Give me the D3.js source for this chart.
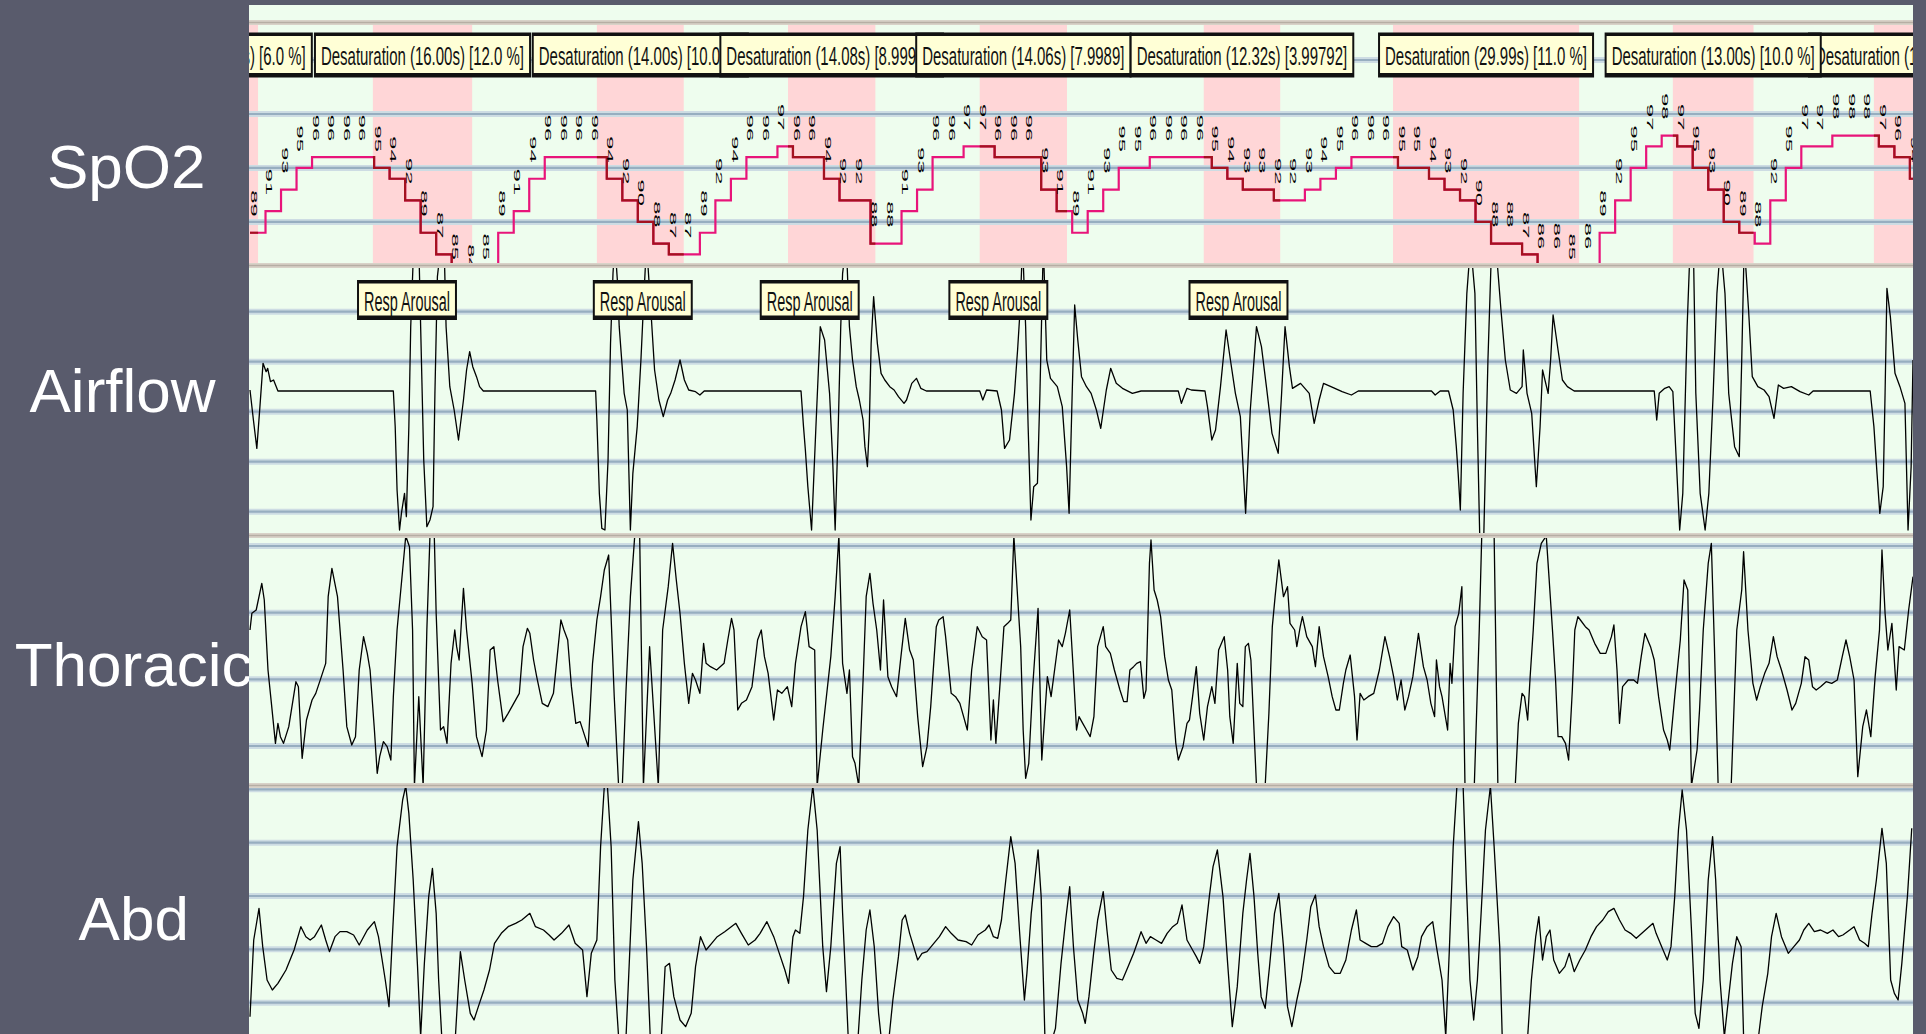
<!DOCTYPE html>
<html>
<head>
<meta charset="utf-8">
<script src="https://cdn.jsdelivr.net/npm/d3@7"></script>
<style>
  body { margin: 0; background: #595b6c; overflow: hidden; }
  svg { display: block; }
</style>
</head>
<body>
<svg id="graf"></svg>
<script>
// ---- data ----------------------------------------------------------
const channels = ["SpO2", "Airflow", "Thoracic", "Abd"]
const windowSec = 268          // seconds shown in the page

// SpO2 (%), one value every 2.5 s
const spo2Step = 2.5
const spo2Values = [89,91,93,95,96,96,96,96,95,94, 92,89,87,85,84,85,89,91,94,96,
  96,96,96,94,92,90,88,87,87,89, 92,94,96,96,97,96,96,94,92,92,
  88,88,91,93,96,96,97,97,96,96, 96,93,91,89,91,93,95,95,96,96,
  96,96,95,94,93,93,92,92,93,94, 95,96,96,96,95,95,94,93,92,90,
  88,88,87,86,86,85,86,89,92,95, 97,98,97,95,93,90,89,88,92,95,
  97,97,98,98,98,97,96,94]
const spo2Grid = [90, 95, 100, 105]

// desaturation events (start s, duration s, drop text)
const desatStart = [-14.7, 19.8, 55.9, 86.7, 117.6, 153.7, 184.2, 229.3, 261.7]
const desatDur   = [16.0, 16.0, 14.0, 14.08, 14.06, 12.32, 29.99, 13.0, 12.4]
const desatDrop  = ["6.0 %", "12.0 %", "10.0 %", "8.99913", "7.9989", "3.99792", "11.0 %", "10.0 %", "9.0 %"]

// respiratory arousals (centre, s)
const arousalMid = [25.3, 63.3, 90.2, 120.6, 159.3]

// Airflow [t s, amplitude]
const airGrid = [-300, -150, 0, 150, 300]
const airflow = [
[0,65],[0.55,-25],[1.1,-110],[1.6,15],[2.1,145],[2.6,120],[2.85,130],[3.3,90],[3.8,95],[4.5,62],
[23.1,62],[23.4,-45],[23.7,-235],[24.1,-355],[24.4,-305],[24.9,-245],[25.2,-315],[25.6,-45],[25.9,255],[26.4,505],[27.2,505],[27.5,255],[28.0,-145],[28.5,-345],[29.0,-325],[29.5,-285],[29.8,55],[30.2,405],[30.8,505],[31.3,485],[31.6,255],[32.2,75],[32.9,5],[33.6,-85],[34.4,35],[34.9,125],[35.4,180],[35.9,135],[36.5,105],[37.0,75],[37.6,62],
[55.7,62],[55.9,-25],[56.3,-245],[56.7,-350],[57.2,-355],[57.7,-145],[58.1,205],[58.5,415],[58.8,505],[59.2,395],[59.5,255],[60.3,55],[60.8,5],[61.3,-355],[61.7,-185],[62.1,-105],[62.4,-45],[63.0,155],[63.5,355],[63.9,505],[64.6,305],[65.2,125],[65.9,35],[66.6,-15],[67.3,35],[67.8,55],[68.5,95],[69.3,155],[70.0,95],[70.7,65],[71.8,60],[72.5,50],[73.2,62],
[88.8,62],[89.2,-45],[89.5,-115],[89.9,-225],[90.5,-355],[91.2,-45],[91.9,255],[92.6,215],[93.4,55],[93.9,-145],[94.3,-355],[94.8,-45],[95.2,255],[95.5,415],[96.1,505],[96.6,255],[97.1,155],[97.7,75],[98.2,35],[98.8,-25],[99.1,-105],[99.5,-165],[99.8,-45],[100.1,205],[100.5,345],[101.1,205],[101.7,115],[102.3,95],[103.1,75],[103.8,65],[104.5,45],[105.4,25],[105.8,35],[106.65,85],[107.4,100],[108.1,70],[109.0,62],
[117.6,62],[118.1,35],[118.7,65],[120.4,62],[121.1,5],[121.6,-110],[122.4,-85],[123.2,55],[123.7,185],[124.1,305],[124.5,505],[125.0,255],[125.4,-45],[125.85,-325],[126.3,-225],[126.9,-215],[127.3,55],[127.85,505],[128.4,155],[129.0,100],[130.1,75],[130.9,15],[131.6,-165],[132.0,-305],[132.5,55],[132.9,320],[133.4,215],[134.0,105],[134.8,75],[135.55,55],[136.4,5],[137.1,-50],[138.0,65],[138.7,130],[139.6,85],[140.6,70],[142.2,55],[143.6,62],
[149.6,62],[150.1,25],[151.0,70],[151.7,65],[153.9,62],[154.3,15],[155.0,-85],[155.6,-55],[156.4,75],[157.3,245],[158.0,155],[158.8,55],[159.6,-15],[160.45,-305],[161.2,5],[162.2,255],[163.0,195],[163.8,75],[164.7,-65],[165.7,-125],[166.25,55],[166.8,255],[167.5,135],[168.0,70],[169.3,85],[170.7,55],[171.5,-35],[172.3,35],[173.0,85],[174.2,75],[176.0,60],[177.5,50],[178.6,62],
[190.4,62],[191.0,50],[191.8,62],[193.15,62],[193.9,5],[194.4,-105],[194.7,-185],[195.05,-295],[195.5,55],[196.1,355],[196.7,505],[197.4,355],[197.8,-45],[198.2,-395],[198.8,-395],[199.5,155],[200.1,505],[200.75,505],[201.6,305],[202.3,155],[203.1,65],[204.1,55],[205.0,75],[205.2,185],[205.8,55],[206.55,-5],[207.3,-225],[207.9,-45],[208.3,125],[209.2,55],[209.6,155],[210.0,290],[210.8,185],[211.5,95],[212.3,75],[213.4,62],
[226.3,62],[226.7,-25],[227.1,55],[228.0,70],[228.7,75],[229.3,60],[229.85,-145],[230.4,-355],[230.9,-245],[231.6,255],[232.1,505],[232.6,505],[233.0,55],[233.7,-245],[234.5,-355],[235.1,-245],[235.8,55],[236.4,355],[237.0,505],[237.7,355],[238.3,55],[239.25,-105],[240.0,-135],[240.4,155],[240.8,505],[241.5,305],[242.1,105],[243.0,75],[244.0,65],[244.8,45],[245.6,-20],[246.3,80],[247.15,70],[248.4,75],[249.8,60],[251.2,50],[251.9,62],
[261.1,62],[261.7,-45],[262.2,-185],[262.65,-305],[263.2,-225],[263.5,55],[263.8,370],[264.35,285],[265.1,115],[265.9,75],[266.7,25],[267.2,-355],[267.7,-165],[268.0,155]
]

// Thoracic effort [t s, amplitude]
const thoGrid = [-300, -100, 100, 300]
const thoracic = [
[0.0,48],[0.3,98],[1.0,108],[1.9,188],[2.3,138],[2.9,-72],[3.45,-172],[4.1,-292],[4.5,-232],[4.9,-272],[5.4,-292],[6.25,-242],[7.4,-107],[7.8,-122],[8.4,-337],[9.1,-222],[10.0,-162],[10.6,-142],[11.5,-92],[12.2,-52],[12.6,148],[13.2,233],[14.1,148],[15.0,-72],[15.6,-242],[16.4,-297],[17.0,-272],[17.6,-72],[18.3,28],[18.9,-22],[19.35,-72],[20.05,-252],[20.5,-382],[20.9,-332],[21.5,-287],[22.1,-302],[22.7,-342],[23.1,-152],[23.7,48],[24.6,228],[25.1,330],[25.7,298],[26.2,48],[26.5,-420],[27.2,-152],[27.9,-420],[28.5,48],[29.0,330],[29.7,330],[30.0,98],[30.7,-252],[31.2,-242],[31.75,-292],[32.4,-52],[33.0,48],[33.3,-2],[33.7,-42],[34.4,173],[34.9,48],[35.8,-112],[36.5,-272],[37.4,-332],[38.1,-252],[38.7,-12],[39.3,-2],[39.9,-102],[40.8,-227],[41.6,-202],[42.5,-172],[43.4,-142],[44.0,-2],[44.7,53],[45.1,38],[45.7,-42],[46.2,-92],[47.1,-172],[48.0,-182],[48.9,-142],[49.5,-32],[50.1,78],[50.6,48],[51.2,18],[51.8,-122],[52.5,-232],[53.2,-227],[54.5,-302],[55.2,-52],[55.9,78],[56.5,148],[57.1,228],[57.8,273],[58.7,-152],[59.4,-420],[60.0,-420],[60.6,-132],[61.3,148],[62.0,330],[62.8,330],[63.4,-420],[64.4,-2],[65.8,-420],[66.5,48],[67.4,178],[68.1,308],[68.7,198],[69.3,98],[70.0,-52],[70.7,-172],[71.3,-82],[71.8,-102],[72.5,-142],[73.1,8],[73.5,-52],[74.2,-62],[75.2,-72],[76.4,-52],[77.0,18],[77.6,83],[78.0,48],[78.6,-192],[79.2,-172],[80.0,-162],[80.9,-122],[81.8,18],[82.4,48],[82.9,-32],[83.5,-82],[84.4,-222],[85.0,-132],[85.7,-142],[86.6,-122],[87.3,-182],[87.9,-52],[88.8,58],[89.5,103],[90.1,-2],[91.0,-12],[91.4,-420],[92.3,-252],[93.6,-32],[94.3,148],[94.9,330],[95.5,-52],[96.2,-142],[96.6,-72],[97.1,-332],[97.5,-352],[98.1,-420],[98.8,-102],[99.3,148],[99.9,218],[100.4,128],[101.0,48],[101.6,-72],[102.1,138],[102.8,-92],[103.4,-122],[104.2,-152],[104.9,-32],[105.6,83],[106.3,-12],[106.9,-42],[107.6,-212],[108.4,-362],[109.1,-302],[109.7,-182],[110.6,58],[111.0,78],[111.7,88],[112.1,28],[113.0,-142],[113.7,-152],[114.4,-172],[115.0,-212],[115.6,-252],[116.3,-72],[117.2,58],[118.0,28],[118.7,18],[119.4,-282],[119.8,-162],[120.2,-292],[121.1,-52],[121.5,58],[122.1,68],[122.6,78],[123.1,330],[123.7,148],[124.2,-2],[124.6,-252],[125.0,-397],[125.5,-352],[126.1,-132],[127.0,113],[127.6,-342],[128.5,-92],[129.1,-152],
[130.3,18],[130.9,-2],[131.4,38],[132.1,108],[132.7,-82],[133.2,-252],[133.6,-212],[134.2,-232],[134.8,-252],[135.4,-272],[136.0,-212],[136.6,-2],[137.5,58],[137.9,-2],[138.65,-22],[139.3,-72],[140.2,-132],[140.8,-167],[141.35,-167],[141.8,-72],[142.4,-62],[142.9,-52],[143.5,-47],[144.05,-157],[144.4,-132],[144.95,248],[145.2,318],[145.7,168],[146.2,138],[146.75,88],[147.4,-32],[148.0,-102],[148.55,-132],[149.2,-292],[149.6,-342],[150.35,-302],[151.0,-232],[151.4,-222],[151.9,-152],[152.5,-62],[153.05,-202],[153.7,-282],[154.3,-182],[155.0,-122],[155.5,-172],[156.1,-12],[157.0,28],[157.55,-72],[157.9,-212],[158.45,-292],[159.1,-52],[159.5,-172],[160.0,-182],[160.4,-2],[160.9,8],[161.3,-42],[161.8,-252],[162.2,-420],[163.6,-420],[164.2,-202],[164.75,58],[165.2,148],[165.8,258],[166.55,148],[167.2,178],[167.6,68],[168.35,48],[168.7,-2],[169.25,58],[169.6,88],[170.3,28],[171.2,-2],[171.7,-62],[172.3,58],[173.0,-32],[173.75,-92],[174.4,-152],[175.0,-192],[175.55,-192],[176.2,-112],[176.6,-72],[177.3,-27],[178.0,-152],[178.4,-282],[178.9,-142],[179.5,-162],[180.2,-152],[181.1,-142],[182.0,-72],[182.9,28],[183.65,-32],[184.3,-92],[184.9,-162],[185.5,-102],[186.1,-192],[186.7,-152],[187.4,-92],[188.3,38],[189.1,-62],[189.7,-102],[190.3,-172],[190.9,-212],[191.2,-42],[191.7,-122],[192.1,-152],[193.0,-252],[193.4,-52],[193.7,-112],[194.2,58],[194.8,98],[195.3,178],[195.8,-420],[197.3,-420],[198.1,48],[198.5,330],[200.5,330],[201.1,-420],[203.9,-420],[204.4,-232],[205.0,-142],[205.4,-152],[205.9,-222],[206.3,-92],[206.8,48],[207.4,248],[208.1,308],[208.9,330],[209.3,218],[209.9,48],[210.4,-102],[210.8,-272],[211.4,-272],[212.0,-292],[212.5,-342],[213.1,-132],[213.5,48],[214.0,88],[214.4,78],[215.2,58],[215.8,48],[216.7,8],[217.6,-22],[218.5,-22],[219.4,28],[219.8,63],[220.3,-72],[220.7,-232],[221.2,-122],[222.1,-102],[223.0,-102],[223.6,-112],[224.2,-32],[224.8,38],[225.7,-2],[226.3,-42],[227.0,-152],[227.8,-252],[228.4,-282],[228.8,-312],[229.6,-152],[230.5,18],[231.1,198],[231.7,168],[232.3,-420],[233.2,-312],[233.6,-192],[234.2,48],[235.0,248],[235.5,308],[236.0,-2],[236.6,-420],[238.7,-420],[239.6,48],[240.4,168],[240.7,283],[241.4,48],[242.2,-112],[242.8,-162],[243.4,-122],[244.1,-82],[244.8,-52],[245.5,28],[246.1,-32],[246.8,-72],[247.7,-132],[248.5,-192],[249.1,-172],[250.0,-112],[250.6,-32],[251.2,-42],[251.8,-122],[252.4,-132],[253.1,-122],[254.0,-107],[254.9,-112],[255.8,-102],[256.6,-32],[257.2,18],[257.8,-32],[258.5,-102],[259.1,-392],[259.9,-242],[260.5,-192],[261.2,-272],[261.9,-92],[262.6,48],[263.0,288],[263.5,98],[263.95,-12],[264.6,68],[265.3,-132],[265.75,-2],[266.6,-12],[267.3,108],[268.0,208]
]

// Abdominal effort [t s, amplitude]
const abdGrid = [-320, -160, 0, 160, 320]
const abd = [
[0.0,-362],[0.6,-132],[1.45,-37],[2.05,-152],[2.75,-252],[3.6,-282],[4.5,-262],[5.8,-222],[7.1,-162],[8.2,-92],[9.0,-122],[9.7,-132],[10.4,-122],[11.5,-87],[12.2,-132],[12.8,-167],[13.7,-122],[14.5,-107],[15.6,-107],[16.7,-117],[17.6,-147],[18.9,-102],[20.05,-77],[20.7,-122],[21.3,-192],[21.8,-252],[22.4,-332],[23.0,-102],[23.7,148],[24.6,288],[25.1,330],[25.6,248],[26.3,48],[27.0,-212],[27.5,-422],[28.1,-202],[28.8,-2],[29.4,83],[30.0,-52],[30.4,-252],[30.9,-422],[33.1,-422],[33.9,-167],[34.6,-252],[35.5,-352],[36.1,-372],[36.8,-332],[37.7,-282],[38.6,-222],[39.4,-142],[40.5,-112],[41.6,-92],[42.8,-82],[43.8,-72],[45.1,-52],[46.0,-92],[47.3,-102],[48.2,-117],[49.0,-132],[50.2,-112],[51.4,-87],[52.4,-142],[53.6,-162],[54.3,-302],[55.0,-172],[55.9,-132],[56.5,148],[57.1,330],[57.6,330],[58.2,148],[58.8,-252],[59.4,-422],[60.6,-422],[61.0,-252],[61.7,48],[62.6,223],[63.2,98],[63.9,-152],[64.5,-422],[66.3,-422],[66.9,-212],[67.6,-202],[68.3,-302],[69.3,-372],[70.2,-392],[71.1,-352],[71.8,-212],[72.6,-122],[73.5,-162],[74.4,-142],[75.3,-122],[76.5,-107],[78.3,-82],[79.2,-112],[80.3,-147],[81.4,-132],[82.2,-112],[83.3,-77],[84.4,-122],[85.3,-172],[86.2,-222],[86.8,-262],[87.5,-122],[87.9,-102],[88.6,-112],[89.2,-2],[89.9,198],[90.7,330],[91.4,198],[92.3,-152],[92.9,-287],[93.6,-152],[94.5,98],[95.1,148],[95.5,-52],[96.0,-252],[96.4,-422],[98.0,-422],[98.6,-252],[99.3,-102],[99.9,-42],[100.6,-152],[101.3,-352],[101.7,-422],[103.0,-422],[103.6,-312],[104.5,-182],[105.1,-72],[105.6,-57],[106.3,-112],[107.6,-192],[108.3,-172],[109.1,-167],[110.2,-142],[111.1,-122],[112.1,-92],[113.0,-112],[114.1,-132],[115.4,-137],[116.3,-147],[117.3,-117],[118.5,-102],[119.1,-87],[119.8,-122],[120.5,-127],[121.1,-72],[121.8,48],[122.6,178],[123.3,98],[124.0,-102],[124.8,-312],[125.2,-232],[125.9,-52],[127.0,138],[127.5,-2],[128.1,-422],[129.4,-422],
[129.8,-397],[130.7,-202],[131.45,-72],[132.1,28],[132.7,-152],[133.4,-312],[134.2,-352],[134.6,-382],[135.2,-302],[135.95,-172],[136.6,-72],[137.5,13],[138.1,-102],[138.8,-222],[139.7,-247],[140.6,-252],[141.5,-212],[142.4,-172],[143.15,-132],[143.6,-107],[144.4,-142],[145.1,-122],[146.0,-132],[146.9,-142],[147.8,-112],[148.7,-92],[149.45,-82],[150.2,-27],[151.0,-132],[151.9,-162],[152.5,-182],[153.05,-202],[153.7,-152],[154.6,-2],[155.2,88],[155.9,138],[156.8,-2],[157.55,-202],[158.3,-392],[159.1,-272],[160.0,-52],[160.6,48],[161.15,128],[161.8,-2],[162.4,-172],[162.95,-302],[163.6,-337],[164.3,-212],[165.1,-52],[165.8,8],[166.55,-152],[167.2,-332],[167.9,-392],[168.7,-312],[169.4,-252],[170.3,-132],[170.95,-32],[171.7,3],[172.3,-92],[173.0,-152],[173.9,-212],[174.8,-232],[175.7,-232],[176.6,-192],[177.5,-102],[178.3,-42],[178.9,-132],[179.8,-142],[180.7,-152],[181.6,-152],[182.5,-142],[183.4,-92],[184.3,-62],[185.2,-82],[185.6,-152],[186.5,-162],[187.4,-222],[188.2,-182],[188.8,-122],[189.7,-92],[190.6,-77],[191.2,-152],[192.1,-252],[192.7,-422],[193.3,-152],[193.9,148],[194.5,330],[195.5,330],[196.0,48],[196.6,-252],[197.2,-372],[197.8,-252],[198.4,-52],[199.1,198],[199.9,330],[200.5,148],[201.4,-152],[201.8,-422],[205.9,-422],[206.5,-252],[207.2,-122],[207.7,-62],[208.3,-192],[208.9,-122],[209.5,-102],[210.1,-192],[211.0,-232],[211.9,-212],[212.6,-172],[213.4,-227],[214.3,-192],[215.2,-162],[216.1,-122],[217.0,-92],[218.0,-72],[218.9,-47],[219.8,-37],[220.7,-72],[221.6,-102],[222.5,-112],[223.4,-127],[224.3,-112],[225.2,-97],[226.1,-82],[226.6,-112],[227.5,-152],[228.4,-192],[229.0,-152],[229.6,-2],[230.2,198],[230.8,318],[231.5,198],[232.3,-102],[232.9,-352],[233.5,-397],[234.2,-252],[235.0,48],[235.7,178],[236.2,48],[236.9,-252],[237.6,-422],[238.3,-302],[238.9,-202],[239.6,-122],[240.3,-152],[240.7,-422],[243.1,-422],[243.7,-332],[244.6,-232],[245.2,-122],[245.95,-52],[246.8,-122],[247.9,-172],[248.8,-152],[249.7,-132],[250.4,-102],[251.2,-82],[252.1,-107],[253.1,-102],[254.2,-112],[255.1,-102],[256.0,-122],[256.7,-117],[257.8,-102],[258.5,-92],[259.4,-132],[260.2,-142],[260.8,-152],[261.4,-52],[262.1,48],[263.0,203],[263.7,98],[264.4,-252],[265.0,-292],[265.6,-312],[266.2,-202],[267.1,-2],[267.8,203]
]

// ---- layout --------------------------------------------------------
const W = 1926, H = 1034
const plotL = 249, plotR = 1913

const panels = [
  {name: channels[0], top: 25,  bottom: 263,  domain: [86.2, 108.24], grid: spo2Grid, lx: 47,   ly: 188},
  {name: channels[1], top: 268, bottom: 533,  domain: [-364, 431],    grid: airGrid,  lx: 29.5, ly: 412},
  {name: channels[2], top: 538, bottom: 783,  domain: [-411, 324],    grid: thoGrid,  lx: 14.7, ly: 686},
  {name: channels[3], top: 788, bottom: 1034, domain: [-414, 324],    grid: abdGrid,  lx: 78.6, ly: 940}
]
const separators = [20, 263, 533, 783]

const x = d3.scaleLinear().domain([0, windowSec]).range([250, plotR])

panels.forEach(p => {
  p.y = d3.scaleLinear().domain(p.domain).range([p.bottom, p.top])
})

const svg = d3.select('#graf')
  .attr('width', W)
  .attr('height', H)

const defs = svg.append('defs')

svg.append('rect')
  .attr('width', W).attr('height', H)
  .attr('fill', '#595b6c')

// channel names (under the plot area, "Thoracic" gets cut)
svg.append('g')
  .selectAll('text')
  .data(panels)
  .join('text')
  .attr('x', d => d.lx)
  .attr('y', d => d.ly)
  .attr('fill', '#ffffff')
  .attr('font-family', '"Liberation Sans", Arial, sans-serif')
  .attr('font-size', 62)
  .text(d => d.name)

// plot background
svg.append('rect')
  .attr('x', plotL).attr('y', 5)
  .attr('width', plotR - plotL).attr('height', H - 5)
  .attr('fill', '#eefdee')

// clip paths
panels.forEach((p, i) => {
  defs.append('clipPath').attr('id', 'clip' + i)
    .append('rect')
    .attr('x', plotL).attr('y', p.top)
    .attr('width', plotR - plotL).attr('height', p.bottom - p.top)
})
defs.append('clipPath').attr('id', 'clipAll')
  .append('rect')
  .attr('x', plotL).attr('y', 5)
  .attr('width', plotR - plotL).attr('height', H - 5)

const events = desatStart.map((s, i) => ({
  start: s,
  dur: desatDur[i],
  label: 'Desaturation (' + desatDur[i].toFixed(2) + 's) [' + desatDrop[i] + ']',
  inside: s >= 0 && s + desatDur[i] <= windowSec
}))

const desatClip = defs.append('clipPath').attr('id', 'desatClip')
desatClip.selectAll('rect')
  .data(events)
  .join('rect')
  .attr('x', d => x(d.start))
  .attr('width', d => x(d.start + d.dur) - x(d.start))
  .attr('y', panels[0].top)
  .attr('height', panels[0].bottom - panels[0].top)

// pink desaturation bands
svg.append('g')
  .attr('clip-path', 'url(#clip0)')
  .selectAll('rect')
  .data(events)
  .join('rect')
  .attr('x', d => x(d.start))
  .attr('width', d => x(d.start + d.dur) - x(d.start))
  .attr('y', panels[0].top)
  .attr('height', panels[0].bottom - panels[0].top)
  .attr('fill', '#ffd6d7')

// grid lines
panels.forEach(p => {
  const g = svg.append('g')
  g.selectAll('.halo')
    .data(p.grid)
    .join('line')
    .attr('class', 'halo')
    .attr('x1', plotL).attr('x2', plotR)
    .attr('y1', d => p.y(d)).attr('y2', d => p.y(d))
    .attr('stroke', '#cddce3')
    .attr('stroke-width', 6)
  g.selectAll('.core')
    .data(p.grid)
    .join('line')
    .attr('class', 'core')
    .attr('x1', plotL).attr('x2', plotR)
    .attr('y1', d => p.y(d)).attr('y2', d => p.y(d))
    .attr('stroke', '#97aec0')
    .attr('stroke-width', 2.2)
})

// SpO2 trace
const spo2Pts = spo2Values.map((v, i) => [i * spo2Step, v])
spo2Pts.push([windowSec, spo2Values[spo2Values.length - 1]])

const ySp = panels[0].y
const spLine = d3.line()
  .x(d => x(d[0]))
  .y(d => ySp(d[1]))
  .curve(d3.curveStepAfter)

const spG = svg.append('g').attr('clip-path', 'url(#clip0)')
spG.append('path')
  .attr('d', spLine(spo2Pts))
  .attr('fill', 'none')
  .attr('stroke', '#e8147a')
  .attr('stroke-width', 2.2)
spG.append('g').attr('clip-path', 'url(#desatClip)')
  .append('path')
  .attr('d', spLine(spo2Pts))
  .attr('fill', 'none')
  .attr('stroke', '#a3121f')
  .attr('stroke-width', 2.2)

// rotated SpO2 value labels
spG.selectAll('.val')
  .data(spo2Pts.slice(0, spo2Values.length))
  .join('text')
  .attr('class', 'val')
  .attr('transform', d => 'translate(' + (x(d[0]) + 4) + ',' + (ySp(d[1]) - 16) + ') rotate(90) scale(2.5,1)')
  .attr('text-anchor', 'end')
  .attr('dy', '0.35em')
  .attr('font-family', '"Liberation Sans", Arial, sans-serif')
  .attr('font-size', 9.5)
  .attr('fill', '#000')
  .text(d => d[1])

// respiration signals
const waves = [airflow, thoracic, abd]
waves.forEach((w, k) => {
  const p = panels[k + 1]
  const line = d3.line()
    .x(d => x(d[0]))
    .y(d => p.y(d[1]))
  svg.append('g').attr('clip-path', 'url(#clip' + (k + 1) + ')')
    .append('path')
    .attr('d', line(w))
    .attr('fill', 'none')
    .attr('stroke', '#000')
    .attr('stroke-width', 1.3)
    .attr('stroke-linejoin', 'round')
})

// separators between channels
separators.forEach(sy => {
  svg.append('rect')
    .attr('x', plotL).attr('y', sy)
    .attr('width', plotR - plotL).attr('height', 5)
    .attr('fill', '#d8d2c8')
  svg.append('line')
    .attr('x1', plotL).attr('x2', plotR)
    .attr('y1', sy + 2.5).attr('y2', sy + 2.5)
    .attr('stroke', '#b6aea4')
    .attr('stroke-width', 1.6)
})

// annotation boxes
function annBox(parent, cx, top, h, label, fs, sx, base) {
  const g = parent.append('g')
  const txt = g.append('text')
    .attr('font-family', '"Liberation Sans", Arial, sans-serif')
    .attr('font-size', fs)
    .attr('fill', '#111')
    .text(label)
  const w = txt.node().getComputedTextLength() * sx + 12
  const x0 = cx - w / 2
  g.insert('rect', 'text')
    .attr('x', x0).attr('y', top)
    .attr('width', w).attr('height', h)
    .attr('fill', '#ffffd6')
    .attr('stroke', '#111')
    .attr('stroke-width', 2)
  g.append('line')
    .attr('x1', x0).attr('x2', x0 + w)
    .attr('y1', top + 1).attr('y2', top + 1)
    .attr('stroke', '#111').attr('stroke-width', 3)
  g.append('line')
    .attr('x1', x0).attr('x2', x0 + w)
    .attr('y1', top + h - 1.5).attr('y2', top + h - 1.5)
    .attr('stroke', '#111').attr('stroke-width', 4)
  txt.attr('transform', 'translate(' + (x0 + 6) + ',' + base + ') scale(' + sx + ',1)')
  txt.raise()
}

const annG = svg.append('g').attr('clip-path', 'url(#clipAll)')
events.slice()
  .sort((a, b) => a.inside - b.inside)
  .forEach(e => annBox(annG, x(e.start + e.dur / 2), 33.5, 43, e.label, 26, 0.576, 65))

arousalMid.forEach(t => annBox(annG, x(t), 281, 38, 'Resp Arousal', 28, 0.516, 311))

// dark frame strips
svg.append('rect').attr('x', 0).attr('y', 0).attr('width', W).attr('height', 5).attr('fill', '#595b6c')
svg.append('rect').attr('x', plotR).attr('y', 0).attr('width', W - plotR).attr('height', H).attr('fill', '#595b6c')
</script>
</body>
</html>
